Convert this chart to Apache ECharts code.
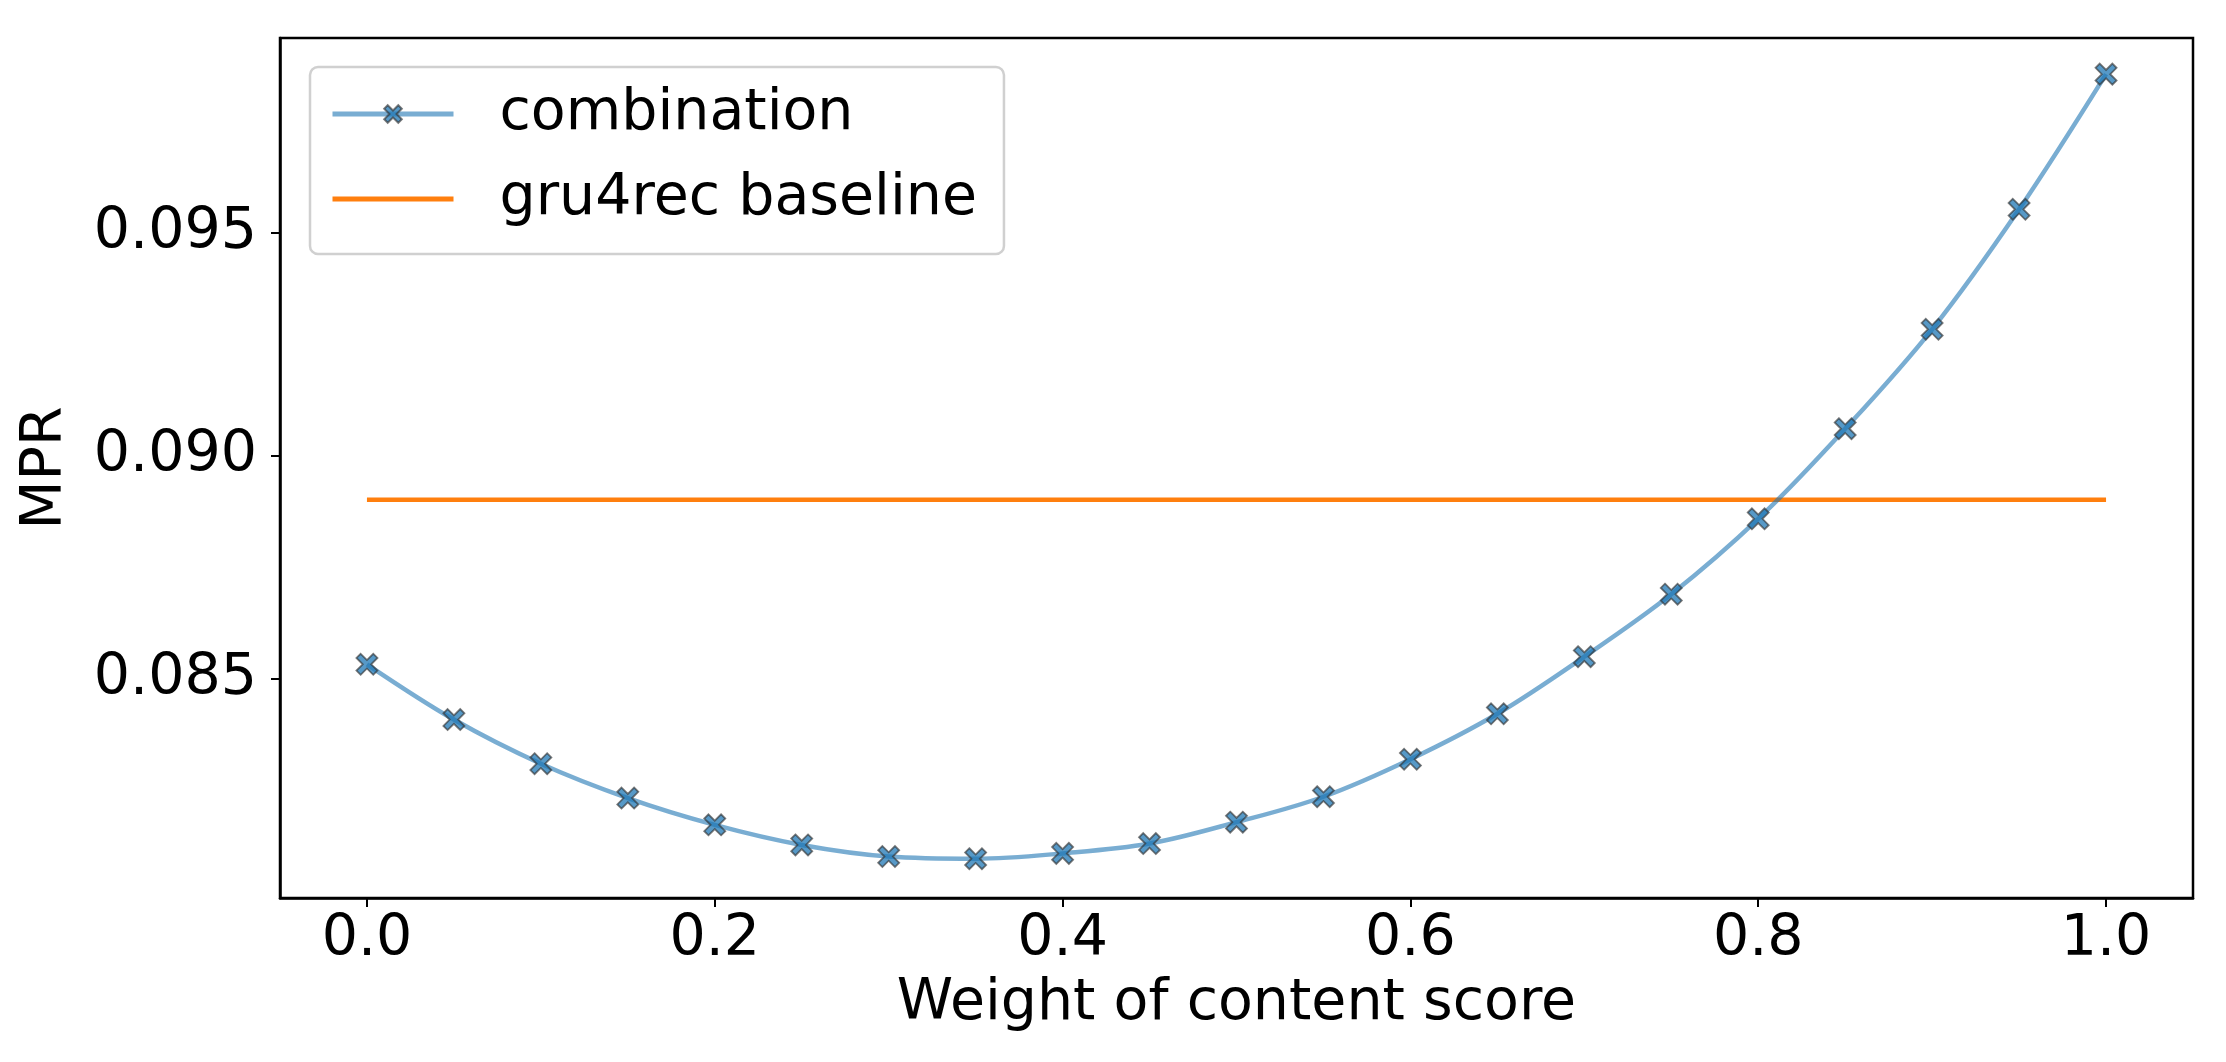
<!DOCTYPE html>
<html><head><meta charset="utf-8">
<script src="https://cdn.jsdelivr.net/npm/echarts@6/dist/echarts.min.js"></script>
<style>html,body{margin:0;padding:0;background:#fff}#c{width:2226px;height:1062px}</style>
</head><body><div id="c"></div>
<script>
const weights = [0.00,0.05,0.10,0.15,0.20,0.25,0.30,0.35,0.40,0.45,0.50,0.55,0.60,0.65,0.70,0.75,0.80,0.85,0.90,0.95,1.00];
const combination = [0.08533,0.08409,0.08310,0.08233,0.08173,0.08128,0.08102,0.08097,0.08109,0.08131,0.08179,0.08236,0.08320,0.08422,0.08550,0.08690,0.08859,0.09061,0.09284,0.09553,0.09856];
const baselineX = [0.0, 1.0];
const baselineMPR = [0.08902, 0.08902];
const xTicks = [0.0,0.2,0.4,0.6,0.8,1.0];
const yTicks = [0.085,0.090,0.095];
const seriesNames = ['combination','gru4rec baseline'];
const xTitle = 'Weight of content score';
const yTitle = 'MPR';

const FONT = 'DejaVu Sans';
const FS = 57;
const xSymbol = 'path://M2,0 L5,3 L8,0 L10,2 L7,5 L10,8 L8,10 L5,7 L2,10 L0,8 L3,5 L0,2 Z';

const chart = echarts.init(document.getElementById('c'), null, {renderer:'canvas'});
chart.setOption({
  animation:false,
  backgroundColor:'#fff',
  textStyle:{fontFamily:FONT},
  grid:{left:280,right:33,top:38,bottom:164,show:true,borderColor:'#000',borderWidth:2.5,containLabel:false},
  legend:{
    orient:'vertical', left:310, top:67,
    data:[{name:seriesNames[0]},{name:seriesNames[1],itemStyle:{opacity:0}}],
    itemWidth:121, itemHeight:22, itemGap:19,
    padding:[14,27,22,20],
    borderColor:'#d0d0d0', borderWidth:2.5, borderRadius:8,
    backgroundColor:'rgba(255,255,255,0.8)',
    lineStyle:{width:5},
    textStyle:{fontFamily:FONT,fontSize:FS,color:'#000',lineHeight:66,padding:[0,0,0,41]}
  },
  xAxis:{
    type:'value', min:-0.05, max:1.05,
    name:xTitle, nameLocation:'middle', nameGap:78,
    nameTextStyle:{fontFamily:FONT,fontSize:FS,color:'#000'},
    axisLine:{show:true,onZero:false,lineStyle:{color:'#000',width:2.5}},
    axisTick:{show:true,customValues:xTicks,length:9,lineStyle:{color:'#000',width:2}},
    axisLabel:{customValues:xTicks,margin:14,fontFamily:FONT,fontSize:FS,color:'#000',formatter:v=>v.toFixed(1)},
    splitLine:{show:false}
  },
  yAxis:{
    type:'value', min:0.08009, max:0.09937,
    name:yTitle, nameLocation:'middle', nameGap:205, nameRotate:90,
    nameTextStyle:{fontFamily:FONT,fontSize:FS,color:'#000'},
    axisLine:{show:true,onZero:false,lineStyle:{color:'#000',width:2.5}},
    axisTick:{show:true,customValues:yTicks,length:9,lineStyle:{color:'#000',width:2}},
    axisLabel:{customValues:yTicks,margin:23,fontFamily:FONT,fontSize:FS,color:'#000',formatter:v=>v.toFixed(3)},
    splitLine:{show:false}
  },
  series:[
    {
      name:seriesNames[0], type:'line', smooth:0.35,
      data:weights.map((w,i)=>[w,combination[i]]),
      symbol:xSymbol, symbolSize:21, showSymbol:true,
      lineStyle:{color:'rgba(31,119,180,0.6)',width:4.5},
      itemStyle:{color:'rgba(31,119,180,0.75)',borderColor:'rgba(50,50,50,0.65)',borderWidth:1.8},
      z:3
    },
    {
      name:seriesNames[1], type:'line',
      data:baselineX.map((x,i)=>[x,baselineMPR[i]]),
      symbol:'none',
      lineStyle:{color:'#ff7f0e',width:4.5},
      itemStyle:{color:'#ff7f0e'},
      z:2
    }
  ]
});
</script>
</body></html>
